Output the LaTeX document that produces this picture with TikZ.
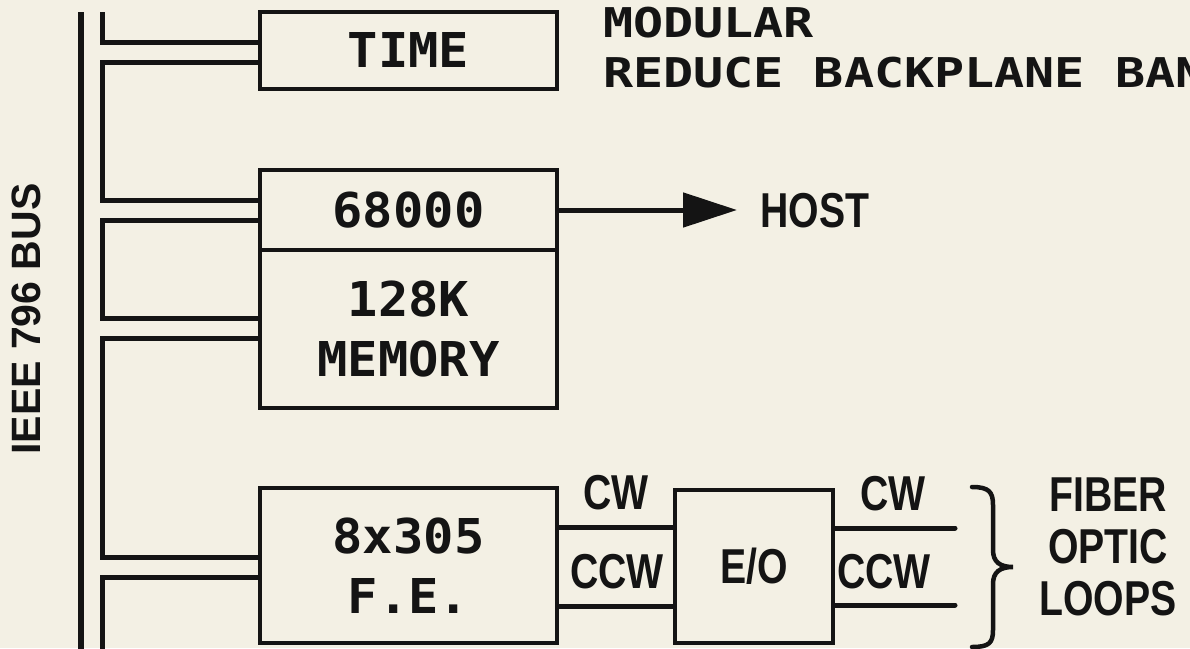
\documentclass[tikz,border=0pt]{standalone}
\usepackage{fontspec}
\usetikzlibrary{arrows.meta}
\newfontfamily\plotfont{DejaVu Sans Mono}[FakeStretch=1.05]
\newfontfamily\plotwide{DejaVu Sans Mono}[FakeStretch=1.22]
\newfontfamily\lblfont{Liberation Sans Bold}[FakeStretch=0.8]
\newfontfamily\busfont{Liberation Sans Bold}
\definecolor{paper}{RGB}{243,240,228}
\definecolor{ink}{RGB}{20,20,20}
\begin{document}
\begin{tikzpicture}[x=1pt,y=-1pt,
  box/.style={draw=ink, line width=4.5pt, minimum width=297pt, inner sep=0pt, text=ink,
    font=\plotfont\bfseries\fontsize{48}{60}\selectfont, align=center},
  lbl/.style={text=ink, font=\lblfont\fontsize{49}{52}\selectfont, inner sep=0pt, align=center},
  plottext/.style={text=ink, font=\plotwide\bfseries\fontsize{41}{45}\selectfont, inner sep=0pt, anchor=base west},
  link/.style={draw=ink, line width=5pt},
  ]
\fill[paper] (0,0) rectangle (1190,648);
\useasboundingbox (0,0) rectangle (1190,648);

% boxes
\node[box, minimum height=77pt] (time) at (408.5,50.5) {TIME};
\node[box, minimum height=80pt] (cpu) at (408.5,210) {68000};
\node[box, minimum height=158pt] (mem) at (408.5,329) {128K\\MEMORY};
\node[box, minimum height=155pt] (fe) at (408.5,565.5) {8x305\\F.E.};
\node[box, minimum width=158pt, minimum height=153pt,
      font=\lblfont\fontsize{49}{52}\selectfont] (eo) at (754,566.5) {E/O};

% bus
\node[text=ink, font=\busfont\fontsize{41}{41}\selectfont, rotate=90, inner sep=0pt] (buslbl) at (26,319) {IEEE 796 BUS};
\coordinate (bustop) at (81,12);
\coordinate (busbot) at (81,652);
\draw[ink, line width=5.5pt] (bustop) -- (busbot);

% bus-to-board links
\coordinate (sp) at (102,12);
\coordinate (sb) at (102,652);
\foreach \n/\y in {a/42,b/62,c/200,d/220,e/318,f/338,g/557,h/577}
  \coordinate (r\n) at (102,\y);
\draw[link] (sp) -- (ra) -- (ra -| time.west);
\draw[link] (rb -| time.west) -- (rb) -- (rc) -- (rc -| cpu.west);
\draw[link] (rd -| cpu.west) -- (rd) -- (re) -- (re -| mem.west);
\draw[link] (rf -| mem.west) -- (rf) -- (rg) -- (rg -| fe.west);
\draw[link] (rh -| fe.west) -- (rh) -- (sb);

% host arrow
\coordinate (hosttip) at (737,210);
\draw[link, -{Triangle[length=54pt,width=34pt]}] (cpu.east) -- (hosttip);
\node[lbl, anchor=west] (host) at (760,211) {HOST};

% CW / CCW lines
\coordinate (cwl) at (600,527);
\coordinate (ccwl) at (600,606);
\draw[link] (cwl -| fe.east) -- (cwl -| eo.west);
\draw[link] (ccwl -| fe.east) -- (ccwl -| eo.west);
\coordinate (cwend) at (955,528);
\coordinate (ccwend) at (955,605);
\draw[link, line cap=round] (cwend -| eo.east) -- (cwend);
\draw[link, line cap=round] (ccwend -| eo.east) -- (ccwend);

\node[lbl] (cwa) at (616,493) {CW};
\node[lbl] (ccwa) at (617,572) {CCW};
\node[lbl] (cwb) at (893,494) {CW};
\node[lbl] (ccwb) at (884,572) {CCW};

% brace
\draw[ink, line width=4.5pt, line cap=round]
  (972,487) .. controls (989,487) and (993,492) .. (993,505) -- (993,550)
  .. controls (993,562) and (1000,567) .. (1013,567)
  .. controls (1000,567) and (993,572) .. (993,584) -- (993,630)
  .. controls (993,643) and (989,647) .. (972,647);
\node[lbl] (fiber) at (1108,547) {FIBER\\OPTIC\\LOOPS};

% notes
\node[plottext] (modular) at (603,37) {MODULAR};
\node[plottext] (reduce) at (603,87) {REDUCE BACKPLANE BAN};
\end{tikzpicture}
\end{document}
